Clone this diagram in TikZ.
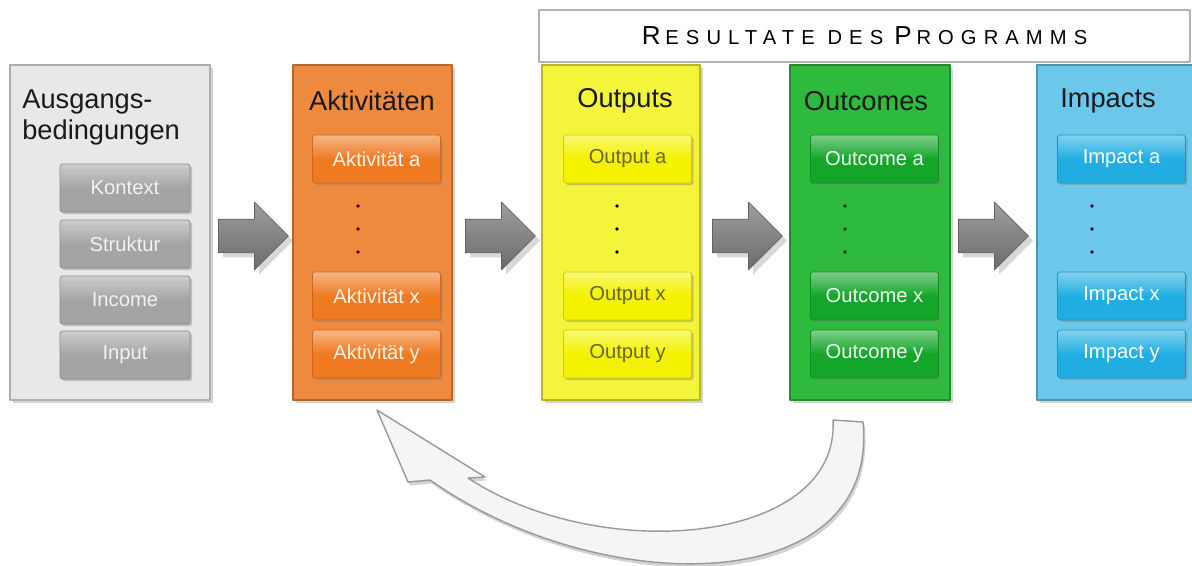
\documentclass[tikz,border=0pt]{standalone}
\usepackage{fontspec}
\setmainfont{Liberation Sans}
\newfontfamily\bannerfont[LetterSpace=35]{Liberation Sans}
\usetikzlibrary{shapes.arrows,shadows}
\definecolor{grauS}{HTML}{E8E8E8}
\definecolor{grauK}{HTML}{A4A4A4}
\definecolor{orangeS}{HTML}{EE8A3E}
\definecolor{orangeK}{HTML}{F07A22}
\definecolor{gelbS}{HTML}{F4F43A}
\definecolor{gelbK}{HTML}{F4F200}
\definecolor{gruenS}{HTML}{2EBA3C}
\definecolor{gruenK}{HTML}{14A62A}
\definecolor{blauS}{HTML}{6CC8EA}
\definecolor{blauK}{HTML}{20AEE2}
\definecolor{oliv}{HTML}{66662A}
\newcommand{\grossbst}[1]{{\fontsize{14.8}{16}\selectfont #1}\kern2.8pt}
\newcommand{\kleinbst}[1]{{\fontsize{11.5}{14}\selectfont #1}}
\begin{document}
\begin{tikzpicture}[x=0.02cm, y=-0.02cm, line join=round, line cap=round,
	spalte/.style={rectangle, draw=#1!75!black, line width=0.8pt, fill=#1, minimum height=6.7cm,
		drop shadow={opacity=0.35, shadow xshift=1.5pt, shadow yshift=-1.5pt}},
	kasten/.style n args={2}{rectangle, rounded corners=1pt, draw=#1!85!black, top color=#1!55!white, bottom color=#1,
		middle color=#1, text=#2, minimum width=2.56cm, minimum height=0.96cm, inner sep=0pt,
		font=\fontsize{11.5}{13}\selectfont, drop shadow={opacity=0.4, shadow xshift=1.2pt, shadow yshift=-1.2pt}},
	titel/.style={text=black!90, font=\fontsize{15.5}{17.6}\selectfont, inner sep=0pt},
	pfeil/.style={single arrow, draw=black!62, top color=black!38, bottom color=black!58, minimum height=1.4cm,
		inner xsep=0pt, inner ysep=0.33cm, single arrow head extend=0.34cm, drop shadow={opacity=0.3}},
	rueck/.style={draw=black!40, line width=0.8pt, fill=black!4, drop shadow={opacity=0.35, shadow xshift=1pt, shadow yshift=-2pt}}]
	\clip (0,0) rectangle (1192,565);
	\fill[white] (0,0) rectangle (1192,565);
	% Banner
	\node[rectangle, draw=black!30, line width=0.8pt, fill=white, minimum width=13.02cm, minimum height=1.04cm]
	(res) at (864.5,36) {\bannerfont\grossbst{R}\kleinbst{ESULTATE DES} \grossbst{P}\kleinbst{ROGRAMMS}};
	% Spalten
	\node[spalte=grauS, minimum width=4cm] (ausg) at (110,232.5) {};
	\node[spalte=orangeS, minimum width=3.18cm] (akt) at (372.5,232.5) {};
	\node[spalte=gelbS, minimum width=3.16cm] (outp) at (621,232.5) {};
	\node[spalte=gruenS, minimum width=3.2cm] (outc) at (870,232.5) {};
	\node[spalte=blauS, minimum width=3.16cm] (imp) at (1116,232.5) {};
	% Titel
	\node[titel, anchor=west, align=left] (ausgt) at (22,117) {Ausgangs-\\bedingungen};
	\node[titel] (aktt) at (372,101) {Aktivitäten};
	\node[titel] (outpt) at (625,101) {Outputs};
	\node[titel] (outct) at (866,101) {Outcomes};
	\node[titel] (impt) at (1108,101) {Impacts};
	% Kaesten
	\node[kasten={grauK}{white!95!black}, minimum width=2.6cm] (kon) at (125,188) {Kontext};
	\node[kasten={grauK}{white!95!black}, minimum width=2.6cm] (str) at (125,244) {Struktur};
	\node[kasten={grauK}{white!95!black}, minimum width=2.6cm] (inc) at (125,300) {Income};
	\node[kasten={grauK}{white!95!black}, minimum width=2.6cm] (inp) at (125,355) {Input};
	\node[kasten={orangeK}{orange!8}] (akta) at (376.5,159) {Aktivität a};
	\node[kasten={orangeK}{orange!8}] (aktx) at (376.5,296) {Aktivität x};
	\node[kasten={orangeK}{orange!8}] (akty) at (376.5,354) {Aktivität y};
	\node[kasten={gelbK}{oliv}] (outpa) at (627.5,159) {Output a};
	\node[kasten={gelbK}{oliv}] (outpx) at (627.5,296) {Output x};
	\node[kasten={gelbK}{oliv}] (outpy) at (627.5,354) {Output y};
	\node[kasten={gruenK}{white!95!green}] (outca) at (874.5,159) {Outcome a};
	\node[kasten={gruenK}{white!95!green}] (outcx) at (874.5,296) {Outcome x};
	\node[kasten={gruenK}{white!95!green}] (outcy) at (874.5,354) {Outcome y};
	\node[kasten={blauK}{white}] (impa) at (1121.5,159) {Impact a};
	\node[kasten={blauK}{white}] (impx) at (1121.5,296) {Impact x};
	\node[kasten={blauK}{white}] (impy) at (1121.5,354) {Impact y};
	% Punkte
	\fill[black!70!red]
	(358,206) circle (1.1pt)
	(358,229) circle (1.1pt)
	(358,252) circle (1.1pt)
	;
	\fill[black]
	(617,206) circle (1.1pt)
	(617,229) circle (1.1pt)
	(617,252) circle (1.1pt)
	;
	\fill[black!80!green]
	(845,206) circle (1.1pt)
	(845,229) circle (1.1pt)
	(845,252) circle (1.1pt)
	;
	\fill[black!80!blue]
	(1092,206) circle (1.1pt)
	(1092,229) circle (1.1pt)
	(1092,252) circle (1.1pt)
	;
	% Pfeile
	\node[pfeil] (pf1) at (245,236) {};
	\node[pfeil] (pf2) at (492,236) {};
	\node[pfeil] (pf3) at (739,236) {};
	\node[pfeil] (pf4) at (985,236) {};
	% Rueckkopplung
	\draw[rueck]
	(377,410) -- (485,477) -- (468,478)
	.. controls (600,565) and (840,545) .. (833,420)
	-- (863,422)
	.. controls (880,600) and (600,600) .. (430,480)
	-- (408,482) -- cycle;
\end{tikzpicture}
\end{document}
